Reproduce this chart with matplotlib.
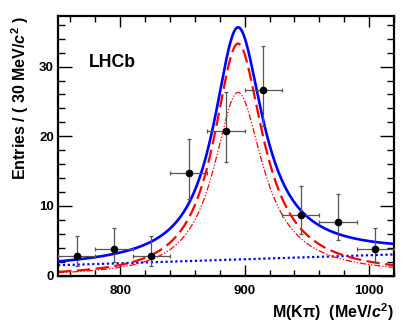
import numpy as np
import matplotlib
matplotlib.use("Agg")
import matplotlib.pyplot as plt
from matplotlib.ticker import MultipleLocator

# ---- data ----
bin_centers = [765, 795, 825, 855, 885, 915, 945, 975, 1005]
counts      = [2.77, 3.81, 2.77, 14.77, 20.7, 26.7, 8.7, 7.77, 3.81]
err_up      = [2.86, 3.09, 2.86, 4.8, 5.6, 6.2, 4.16, 3.9, 3.0]
err_down    = [1.43, 1.9, 1.43, 3.8, 4.4, 5.2, 2.74, 2.67, 1.9]
bin_half_width = 15

# fit-curve parameters
peak_mass = 894.0          # MeV
peak_width = 48.0          # MeV
signal_peak = 33.3         # red dashed height at peak
pwave_peak = 26.3          # red dash-dot height at peak
bkg_left, bkg_right = 1.5, 3.05   # blue dotted line at 750 and 1020
x_range = (750, 1020)

plt.rcParams['font.family'] = ['Liberation Sans', 'DejaVu Sans']
plt.rcParams['font.weight'] = 'bold'
plt.rcParams['mathtext.fontset'] = 'custom'
plt.rcParams['mathtext.rm'] = 'Liberation Sans:bold'
plt.rcParams['mathtext.it'] = 'Liberation Sans:bold:italic'
plt.rcParams['mathtext.bf'] = 'Liberation Sans:bold'

fig = plt.figure(figsize=(4.15, 3.29), dpi=100)
ax = fig.add_axes([58/415, 1-275.7/329, (394-58)/415, (275.7-15.7)/329])

# model curves
mK, mpi = 493.677, 139.570
def q(m):
    return np.sqrt((m**2-(mK+mpi)**2)*(m**2-(mK-mpi)**2))/(2*m)
m = np.linspace(x_range[0], x_range[1], 600)
shape = (peak_width/2)**2/((m-peak_mass)**2+(peak_width/2)**2) * q(m)/q(peak_mass)
shape = shape/shape.max()
sig = signal_peak*shape
pw = pwave_peak*shape
bkg = bkg_left + (bkg_right-bkg_left)*(m-x_range[0])/(x_range[1]-x_range[0])
tot = sig + bkg

ax.plot(m, bkg, color='#0000ff', lw=1.6, ls=(0, (1, 1.2)), zorder=2)
ax.plot(m, pw, color='#ff0000', lw=0.9, ls=(0, (5, 1.5, 1, 1.5, 1, 1.5)), zorder=2)
ax.plot(m, sig, color='#ff0000', lw=1.6, ls=(0, (6, 2.5)), zorder=2)
ax.plot(m, tot, color='#0000ff', lw=1.9, zorder=3)

ax.errorbar(bin_centers, counts, yerr=[err_down, err_up], xerr=bin_half_width,
            fmt='o', color='black', ms=4.5, ecolor='#555555', elinewidth=0.9,
            capsize=1.5, capthick=0.9, zorder=4)

ax.set_xlim(*x_range)
ax.set_ylim(0, 37.3)
ax.xaxis.set_major_locator(MultipleLocator(100))
ax.xaxis.set_minor_locator(MultipleLocator(20))
ax.yaxis.set_major_locator(MultipleLocator(10))
ax.yaxis.set_minor_locator(MultipleLocator(2))
ax.tick_params(axis='both', which='both', direction='in', top=True, right=True)
ax.tick_params(axis='x', which='major', length=8, width=1, pad=6.5, labelsize=9.5)
ax.tick_params(axis='x', which='minor', length=4, width=1)
ax.tick_params(axis='y', which='major', length=10, width=1, pad=3, labelsize=9.5)
ax.tick_params(axis='y', which='minor', length=5, width=1)
for lab in ax.get_xticklabels() + ax.get_yticklabels():
    lab.set_fontweight('bold')
for s in ax.spines.values():
    s.set_linewidth(1.6)

ax.set_xlabel(r'M(K$\mathrm{\pi}$)  (MeV/$c^{2}$)', fontsize=11.5, fontweight='bold',
              loc='right', labelpad=3)
ax.set_ylabel(r'Entries / ( 30 MeV/$c^{2}$ )', fontsize=11.5, fontweight='bold',
              loc='top', labelpad=6)

ax.text(89.3/415, 1-66.7/329, 'LHCb', transform=fig.transFigure, fontsize=12.7,
        fontweight='bold', ha='left', va='baseline')

fig.savefig('out.png', dpi=100)
